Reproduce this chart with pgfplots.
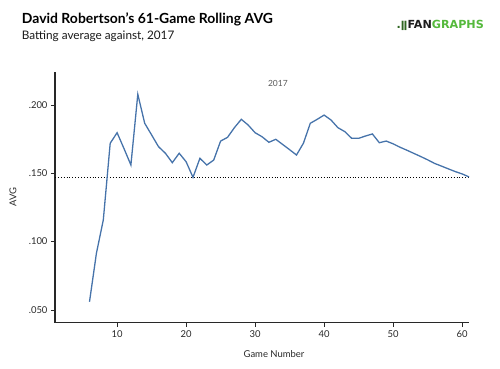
\documentclass[border=0pt]{standalone}
\usepackage{fontspec}
\setmainfont{Lato}
\newfontfamily\logofont{DejaVu Sans}
\usepackage{pgfplots}
\pgfplotsset{compat=1.18}
\definecolor{linec}{RGB}{70,115,170}
\definecolor{axc}{RGB}{40,40,40}
\definecolor{txt}{RGB}{40,40,40}
\definecolor{fgreen}{RGB}{85,185,60}
\definecolor{fdark}{RGB}{30,30,30}
\begin{document}
\begin{tikzpicture}
\path[use as bounding box] (-55bp,-46.3bp) rectangle (445bp,322.7bp);
\begin{axis}[
  scale only axis,
  width=414bp, height=250.7bp,
  xmin=1, xmax=61,
  ymin=0.0407, ymax=0.224,
  axis lines*=left,
  axis line style={-, draw=axc, line width=1.2pt},
  xtick={10,20,30,40,50,60},
  ytick={0.05,0.1,0.15,0.2},
  yticklabels={.050,.100,.150,.200},
  tick style={draw=axc, line width=0.6pt},
  tick align=outside,
  major tick length=4bp,
  /pgf/number format/assume math mode=true,
  ticklabel style={font=\fontsize{9.5}{11}\selectfont, text=txt},
  xlabel={Game Number},
  ylabel={AVG},
  label style={font=\fontsize{9.5}{11}\selectfont, text=txt},
  xlabel style={at={(axis description cs:0.529,0)}, anchor=north, inner sep=0pt, yshift=-28bp},
  ylabel style={at={(axis description cs:-0.1015,0.5)}, anchor=center, inner sep=0pt},
  clip=false,
]
\addplot[black, dotted, line width=0.9pt, forget plot] coordinates {(1,0.147) (61,0.147)};
\addplot[linec, line width=1.3pt, mark=none] coordinates {
(6,0.056) (7,0.0914) (8,0.1158) (9,0.1719) (10,0.1796) (11,0.168) (12,0.156)
(13,0.2077) (14,0.1865) (15,0.178) (16,0.1694) (17,0.1646) (18,0.1577)
(19,0.1646) (20,0.1584) (21,0.147) (22,0.1609) (23,0.156) (24,0.1596)
(25,0.1735) (26,0.1762) (27,0.1833) (28,0.1894) (29,0.1852) (30,0.1796)
(31,0.1767) (32,0.1726) (33,0.1748) (34,0.1710) (35,0.1672) (36,0.1633)
(37,0.1719) (38,0.1865) (39,0.1894) (40,0.1925) (41,0.1889) (42,0.1833)
(43,0.1804) (44,0.1755) (45,0.1755) (46,0.1772) (47,0.1787) (48,0.1723)
(49,0.1735) (50,0.1715) (51,0.1690) (52,0.1668) (53,0.1645) (54,0.1622)
(55,0.1598) (56,0.1572) (57,0.1552) (58,0.1532) (59,0.1512) (60,0.1495)
(61,0.1473)
};
\node[font=\fontsize{8.5}{10}\selectfont, text=black!65] at (axis cs:33.3,0.2154) {2017};
\end{axis}
\node[anchor=base west, inner sep=0pt, font=\fontsize{14}{16}\selectfont\bfseries, text=black] at (-33.3bp,299.4bp) {David Robertson's 61-Game Rolling AVG};
\node[anchor=base west, inner sep=0pt, font=\fontsize{11.8}{13}\selectfont, text=black!90] at (-33.3bp,283.4bp) {Batting average against, 2017};
\node[anchor=base east, inner sep=0pt, font=\logofont\fontsize{11.2}{13}\selectfont\bfseries] at (429bp,293.7bp) {\textcolor{fgreen!55!black}{.{\fontsize{10}{11}\selectfont ǁ}}\textcolor{fdark}{FAN}\textcolor{fgreen}{GRAPHS}};
\end{tikzpicture}
\end{document}
